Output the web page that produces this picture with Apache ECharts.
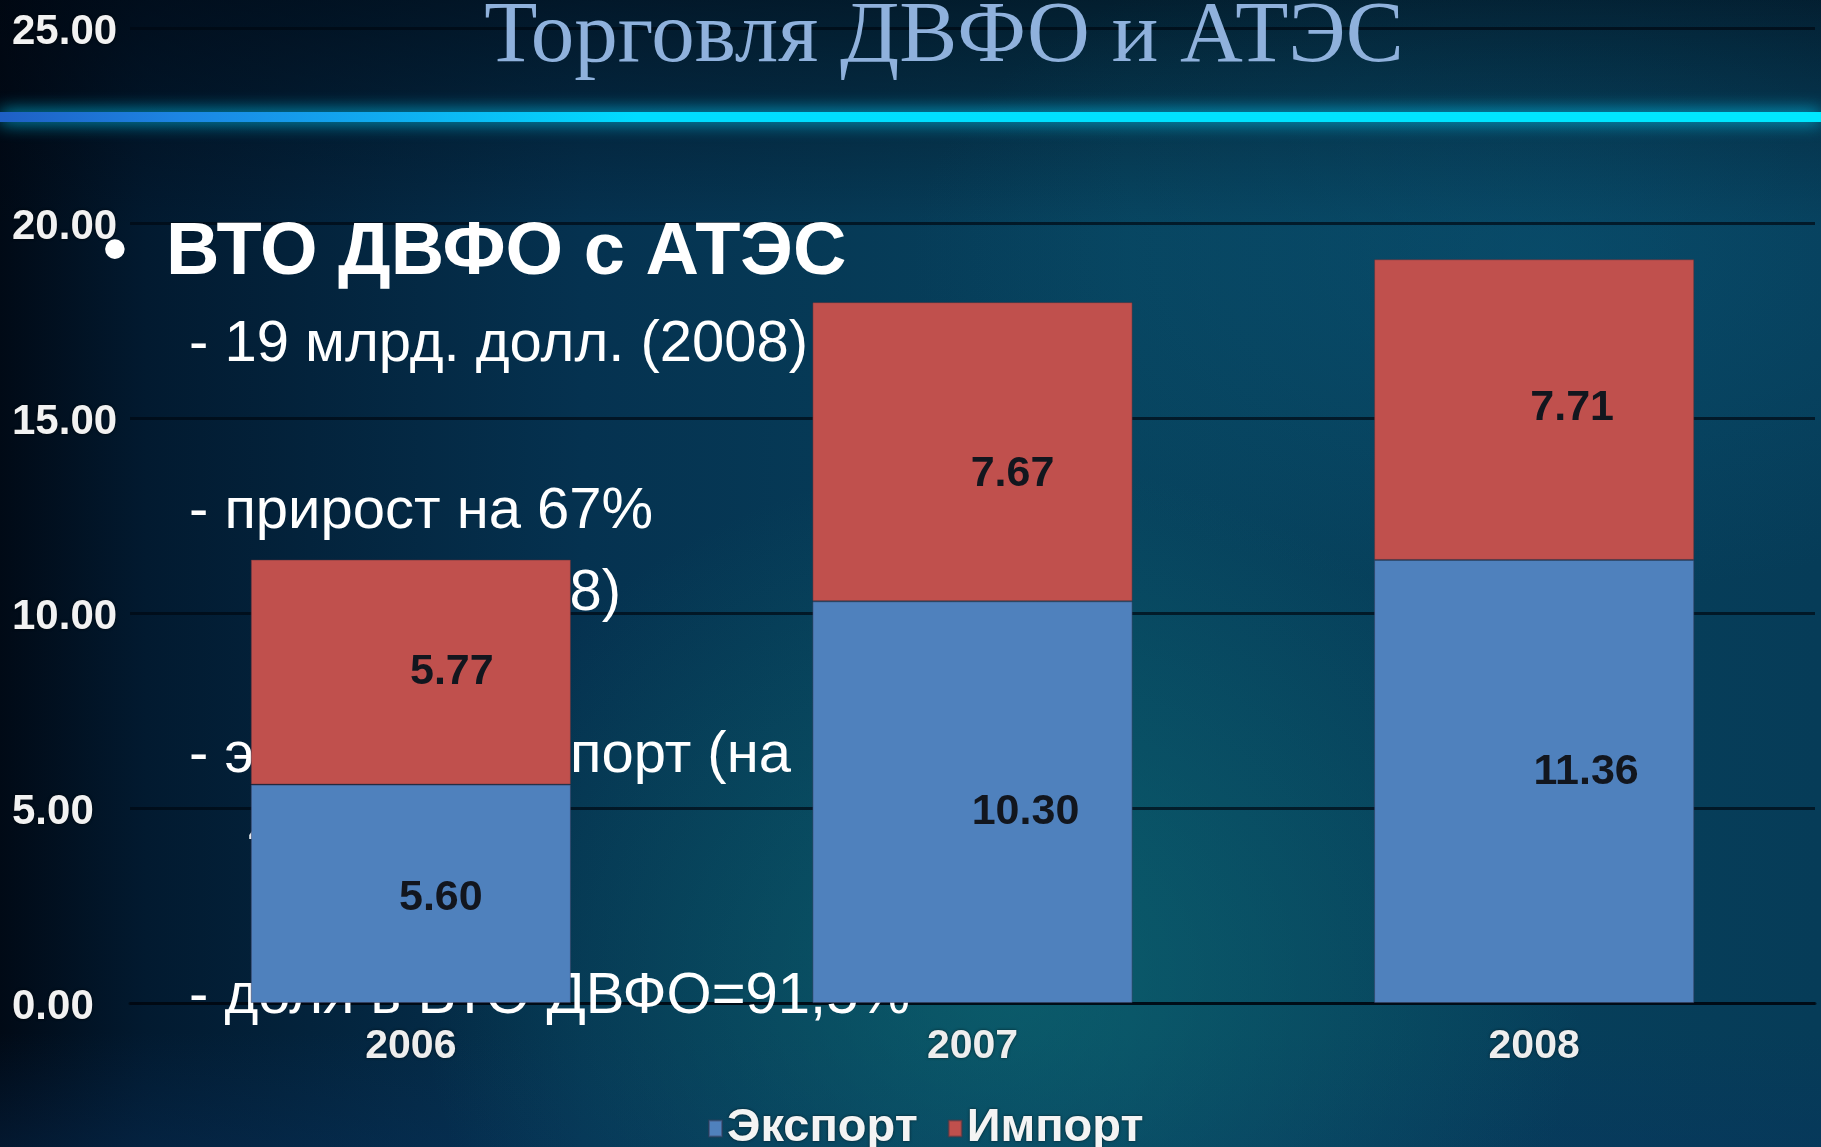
<!DOCTYPE html>
<html>
<head>
<meta charset="utf-8">
<script src="https://cdn.jsdelivr.net/npm/echarts@6/dist/echarts.min.js"></script>
<style>
html, body { margin: 0; padding: 0; overflow: hidden; }
body {
    width: 1821px; height: 1147px;
    background:
        radial-gradient(ellipse 32% 45% at 55% 85%, rgba(16, 125, 125, 0.45), rgba(16, 125, 125, 0) 100%),
        radial-gradient(ellipse 35% 30% at 85% 22%, rgba(12, 95, 130, 0.35), rgba(12, 95, 130, 0) 100%),
        linear-gradient(180deg, rgba(0, 6, 16, 0.6) 0%, rgba(0, 6, 16, 0) 20%),
        linear-gradient(0deg, rgba(8, 50, 95, 0.35) 0%, rgba(8, 50, 95, 0) 10%),
        linear-gradient(90deg, #010a16 0%, #021a30 8%, #053250 32%, #07435e 62%, #063c58 100%);
}
#main { width: 1821px; height: 1147px; }
</style>
</head>
<body>
<div id="main"></div>
<script>
var years = ['2006', '2007', '2008'];
var exportVals = [5.60, 10.30, 11.36];
var importVals = [5.77, 7.67, 7.71];
var seriesNames = ['Экспорт', 'Импорт'];
var yMin = 0, yMax = 25, yStep = 5;

// label nudges (style only)
var exportShift = [[30, 4], [53, 10], [52, -9]];
var importShift = [[41, 0], [40, 22], [38, -1]];

var slideTitle = 'Торговля ДВФО и АТЭС';
var headLine = 'ВТО ДВФО с АТЭС';

var chart = echarts.init(document.getElementById('main'));

var sans = '"Liberation Sans", Arial, sans-serif';
var white = '#ffffff';

function txt(x, y, s, size, opts) {
    opts = opts || {};
    return {
        type: 'text', x: x, y: y, z: 1,
        style: {
            text: s,
            fill: opts.fill || white,
            fontSize: size,
            fontFamily: opts.family || sans,
            fontWeight: opts.weight || 'normal',
            align: opts.align || 'left',
            verticalAlign: 'middle'
        }
    };
}

function withShift(vals, shifts) {
    return vals.map(function (v, i) {
        return { value: v, label: { offset: shifts[i] } };
    });
}

var labelStyle = {
    show: true, position: 'inside',
    color: '#12161e', fontSize: 43, fontWeight: 'bold', fontFamily: sans,
    formatter: function (p) { return p.value.toFixed(2); }
};

var option = {
    animation: false,
    backgroundColor: 'transparent',
    graphic: [
        {
            type: 'rect', z: 0,
            shape: { x: 0, y: 112, width: 1821, height: 10 },
            style: {
                fill: new echarts.graphic.LinearGradient(0, 0, 1, 0, [
                    { offset: 0, color: '#1f5fc4' },
                    { offset: 0.1, color: '#1c86e4' },
                    { offset: 0.35, color: '#00dcff' },
                    { offset: 1, color: '#00e8ff' }
                ]),
                shadowBlur: 18,
                shadowColor: 'rgba(0, 210, 255, 0.95)'
            }
        },
        txt(944, 38, slideTitle, 87, { family: '"Liberation Serif", "Times New Roman", serif', fill: '#8fb1dc', align: 'center' }),
        txt(103, 253, '•', 68, { weight: 'bold' }),
        txt(166, 254, headLine, 74, { weight: 'bold' }),
        txt(189, 345, '- 19 млрд. долл. (2008)', 58),
        txt(189, 512, '- прирост на 67%', 58),
        txt(621, 594, '(2006-2008)', 58, { align: 'right' }),
        txt(189, 756, '- экспорт > им', 58),
        txt(570, 756, 'порт (на', 58),
        txt(248, 832, '47%)', 58),
        txt(189, 997, '- доля в ВТО ДВФО=91,5%', 58)
    ],
    grid: { left: 130, right: 6, top: 28, bottom: 144, outerBoundsMode: 'none' },
    legend: {
        data: seriesNames,
        left: 703, top: 1100,
        itemWidth: 13, itemHeight: 16, itemGap: 30,
        icon: 'rect',
        textStyle: { color: '#f4f4f4', fontSize: 47, fontWeight: 'bold', fontFamily: sans,
            textShadowColor: 'rgba(0,0,0,0.6)', textShadowBlur: 3 }
    },
    xAxis: {
        type: 'category',
        data: years,
        axisLine: { lineStyle: { color: 'rgba(0, 8, 18, 0.75)', width: 3 } },
        axisTick: { show: false },
        axisLabel: { color: '#eeeeee', fontSize: 41, fontWeight: 'bold', fontFamily: sans, margin: 23,
            textShadowColor: 'rgba(0,0,0,0.6)', textShadowBlur: 3 }
    },
    yAxis: {
        type: 'value',
        min: yMin, max: yMax, interval: yStep,
        axisLine: { show: false },
        axisTick: { show: false },
        splitLine: { lineStyle: { color: 'rgba(0, 8, 18, 0.7)', width: 3 } },
        axisLabel: {
            align: 'left', margin: 118,
            formatter: function (v) { return '{t|' + v.toFixed(2) + '}'; },
            rich: {
                t: {
                    padding: [9, 0, 0, 0],
                    color: '#f2f2f2', fontSize: 42, fontWeight: 'bold', fontFamily: sans,
                    textShadowColor: 'rgba(0,0,0,0.7)', textShadowBlur: 3
                }
            }
        }
    },
    series: [
        {
            name: seriesNames[0], type: 'bar', stack: 'total',
            data: withShift(exportVals, exportShift), barWidth: '57%',
            itemStyle: { color: '#4f81bd', borderColor: 'rgba(60,60,90,0.5)', borderWidth: 1 },
            label: labelStyle
        },
        {
            name: seriesNames[1], type: 'bar', stack: 'total',
            data: withShift(importVals, importShift), barWidth: '57%',
            itemStyle: { color: '#c0504d', borderColor: 'rgba(90,50,60,0.5)', borderWidth: 1 },
            label: labelStyle
        }
    ]
};

chart.setOption(option);
</script>
</body>
</html>
